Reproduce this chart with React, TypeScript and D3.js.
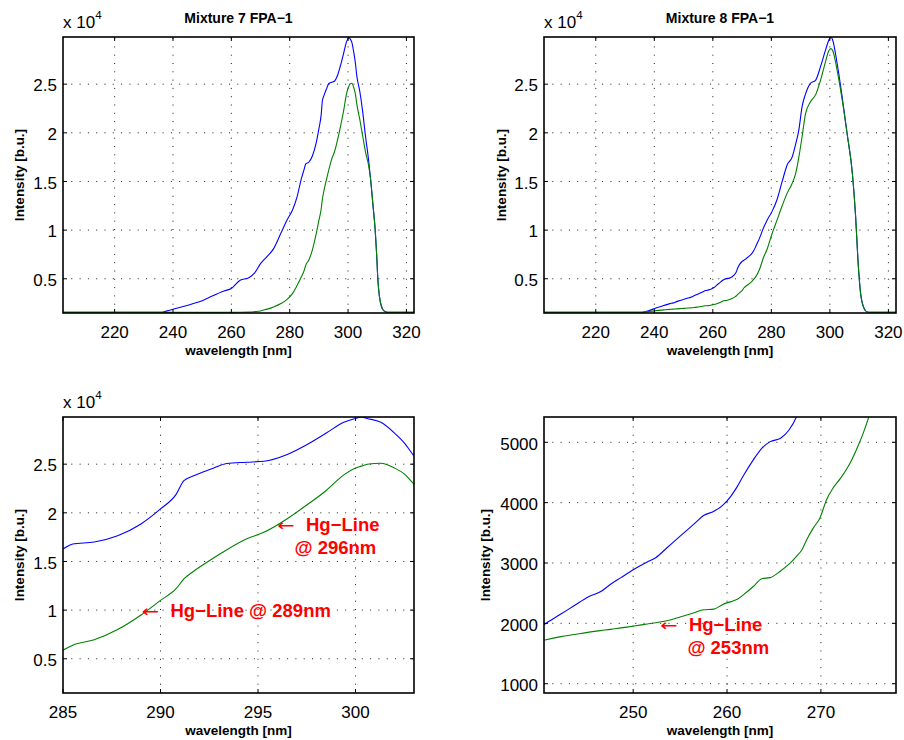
import React from "react";
import * as d3 from "d3";

// ---------- data ----------
// Mixture 7 FPA-1 (wavelength nm, intensity b.u.)
const wl7 = [202.3, 235.5, 238, 240, 243.5, 247, 250, 253, 257.5, 260, 263, 266, 268, 270, 272, 274.5, 277, 279, 281, 282.5, 284, 285, 285.5, 286.6, 287.8, 289, 290, 290.8, 291.2, 291.7, 292.6, 293.4, 294.4, 295.3, 296.5, 297.5, 298.5, 299.4, 300, 300.3, 300.6, 301.3, 302, 302.5, 303, 304, 305, 306, 307, 307.7, 308.5, 309.3, 309.8, 310.2, 310.7, 311.4, 312.3, 313.4, 314.5, 322.6];
const blue7 = [1540, 1540, 1700, 1860, 2150, 2460, 2750, 3170, 3750, 4000, 4850, 5100, 5600, 6550, 7200, 8100, 9700, 11000, 12100, 13400, 15300, 16300, 16800, 17000, 17650, 18860, 20400, 21900, 23300, 23800, 24500, 25070, 25200, 25300, 26000, 27000, 28200, 29300, 29700, 29850, 29700, 29300, 28200, 27200, 25850, 24300, 22200, 19600, 17300, 15300, 12700, 10000, 7500, 5000, 3300, 2200, 1700, 1560, 1540, 1540];
const green7 = [1540, 1540, 1540, 1540, 1540, 1540, 1540, 1540, 1545, 1545, 1550, 1570, 1620, 1690, 1850, 2100, 2450, 2850, 3500, 4300, 5200, 5890, 6400, 6950, 8000, 9500, 11000, 12200, 13200, 14000, 15200, 16200, 17300, 18000, 19400, 20800, 22300, 23900, 24600, 24800, 25000, 25100, 24600, 24000, 22950, 21400, 19700, 18000, 16700, 15300, 12700, 10000, 7500, 5000, 3300, 2200, 1700, 1560, 1540, 1540];

// Mixture 8 FPA-1
const wl8 = [202.3, 235.5, 238, 240.6, 242.3, 243.7, 245.3, 246.5, 247.6, 248.7, 250.1, 251.5, 252.4, 253.6, 255.0, 256.5, 257.5, 258.6, 259.5, 260.4, 261.1, 261.8, 262.8, 263.7, 264.6, 265.7, 266.6, 267.4, 268.0, 268.5, 269.2, 269.9, 270.6, 271.3, 272.1, 273.1, 274.0, 274.5, 275.1, 276.0, 277.4, 278.5, 280.2, 281.9, 283.7, 285.4, 287.1, 288.2, 289.4, 290.5, 291.7, 293.4, 295.1, 296.8, 298.5, 299.6, 300.3, 300.9, 302.5, 304.2, 305.9, 307.7, 308.8, 309.6, 310.5, 311.7, 312.8, 313.9, 322.6];
const blue8 = [1540, 1540, 1720, 1989, 2154, 2291, 2445, 2522, 2648, 2758, 2896, 3016, 3088, 3253, 3445, 3648, 3786, 3857, 3951, 4104, 4269, 4462, 4709, 4901, 5011, 5066, 5203, 5423, 5700, 6100, 6500, 6750, 6900, 7050, 7250, 7500, 7900, 8200, 8600, 9200, 10300, 11000, 11900, 13100, 15000, 16700, 17500, 18700, 20300, 22700, 24000, 25100, 25400, 26800, 28500, 29500, 29850, 29600, 27100, 23700, 19900, 15800, 11400, 6900, 3500, 1950, 1580, 1540, 1540];
const green8 = [1540, 1540, 1620, 1725, 1780, 1815, 1855, 1880, 1900, 1925, 1955, 1989, 2010, 2044, 2105, 2175, 2225, 2236, 2310, 2360, 2400, 2480, 2610, 2740, 2758, 2868, 2980, 3110, 3225, 3390, 3582, 3747, 4049, 4242, 4407, 4654, 4956, 5148, 5423, 6000, 7260, 8000, 9600, 11000, 12500, 13800, 14800, 15700, 17500, 19600, 22000, 23200, 23900, 25400, 27300, 28400, 28660, 28500, 26400, 23400, 19900, 15800, 11400, 6900, 3500, 1950, 1580, 1540, 1540];

const titles = ["Mixture 7 FPA\u22121", "Mixture 8 FPA\u22121"];
const xTicksFull = [220, 240, 260, 280, 300, 320];
const xTicksZoom7 = [285, 290, 295, 300];
const xTicksZoom8 = [250, 260, 270];
const yTicksE4 = [5000, 10000, 15000, 20000, 25000];
const yTicksLow = [1000, 2000, 3000, 4000, 5000];
const xLabel = "wavelength [nm]";
const yLabel = "Intensity [b.u.]";

const annot7 = [
  { x: 289.05, y: 9820, line1: "Hg\u2212Line @ 289nm", line2: "" },
  { x: 296.0, y: 18740, line1: "Hg\u2212Line", line2: "@ 296nm" },
];
const annot8 = [{ x: 252.9, y: 1960, line1: "Hg\u2212Line", line2: "@ 253nm" }];

// ---------- layout ----------
const FONT = "'Liberation Sans', Arial, Helvetica, sans-serif";
const BLUE = "#0000ff";
const GREEN = "#008000";
const RED = "#ff0000";

type PanelCfg = {
  left: number; top: number; width: number; height: number;
  xDomain: [number, number]; yDomain: [number, number];
  xTicks: number[]; yTicks: number[];
  yFmt: (v: number) => string;
  exponent: boolean; title?: string;
  wl: number[]; blue: number[]; green: number[];
  annots: { x: number; y: number; line1: string; line2: string }[];
  yLabelDx: number; line2Dx: number;
  id: string;
};

function Panel({ c }: { c: PanelCfg }) {
  const x = d3.scaleLinear().domain(c.xDomain).range([c.left, c.left + c.width]);
  const y = d3.scaleLinear().domain(c.yDomain).range([c.top + c.height, c.top]);
  const bottom = c.top + c.height;
  const right = c.left + c.width;
  const line = d3
    .line<number>()
    .x((_, i) => x(c.wl[i]))
    .y((d) => y(d))
    .curve(d3.curveMonotoneX);
  const tickLen = 4;
  return (
    <g>
      <defs>
        <clipPath id={c.id}>
          <rect x={c.left} y={c.top} width={c.width} height={c.height} />
        </clipPath>
      </defs>
      <rect x={c.left} y={c.top} width={c.width} height={c.height} fill="#fff" />
      {/* grid */}
      <g stroke="#000" strokeWidth={0.9} strokeDasharray="1 7.3" fill="none">
        {c.xTicks.map((t) =>
          Math.abs(x(t) - c.left) > 1 && Math.abs(x(t) - right) > 1 ? (
            <line key={"gx" + t} x1={x(t)} x2={x(t)} y1={bottom} y2={c.top} />
          ) : null
        )}
        {c.yTicks.map((t) => (
          <line key={"gy" + t} x1={c.left} x2={right} y1={y(t)} y2={y(t)} />
        ))}
      </g>
      {/* data */}
      <g clipPath={`url(#${c.id})`} fill="none" strokeWidth={1.1}>
        <path d={line(c.blue) || ""} stroke={BLUE} />
        <path d={line(c.green) || ""} stroke={GREEN} />
      </g>
      {/* ticks */}
      <g stroke="#000" strokeWidth={1}>
        {c.xTicks.map((t) => (
          <g key={"tx" + t}>
            <line x1={x(t)} x2={x(t)} y1={bottom} y2={bottom - tickLen} />
            <line x1={x(t)} x2={x(t)} y1={c.top} y2={c.top + tickLen} />
          </g>
        ))}
        {c.yTicks.map((t) => (
          <g key={"ty" + t}>
            <line x1={c.left} x2={c.left + tickLen} y1={y(t)} y2={y(t)} />
            <line x1={right} x2={right - tickLen} y1={y(t)} y2={y(t)} />
          </g>
        ))}
      </g>
      <rect x={c.left} y={c.top} width={c.width} height={c.height} fill="none" stroke="#000" strokeWidth={1.6} />
      {/* tick labels */}
      <g fontFamily={FONT} fontSize={17} fill="#000">
        {c.xTicks.map((t) => (
          <text key={"lx" + t} x={x(t)} y={bottom + 24.6} textAnchor="middle">
            {String(t)}
          </text>
        ))}
        {c.yTicks.map((t) => (
          <text key={"ly" + t} x={c.left - 6} y={y(t) + 7.3} textAnchor="end">
            {c.yFmt(t)}
          </text>
        ))}
      </g>
      {c.exponent ? (
        <text x={c.left} y={c.top - 9.3} fontFamily={FONT} fontSize={17} fill="#000">
          x 10
          <tspan fontSize={11.5} dy={-9}>4</tspan>
        </text>
      ) : null}
      {c.title ? (
        <text x={(c.left + right) / 2} y={c.top - 14.3} textAnchor="middle" fontFamily={FONT} fontSize={14} fontWeight="bold">
          {c.title}
        </text>
      ) : null}
      <text x={(c.left + right) / 2} y={bottom + 42} textAnchor="middle" fontFamily={FONT} fontSize={13.5} fontWeight="bold">
        {xLabel}
      </text>
      <text
        transform={`translate(${c.left + c.yLabelDx},${(c.top + bottom) / 2}) rotate(-90)`}
        textAnchor="middle"
        fontFamily={FONT}
        fontSize={13.5}
        fontWeight="bold"
      >
        {yLabel}
      </text>
      {/* annotations */}
      {c.annots.map((a, i) => {
        const ax = x(a.x);
        const ay = y(a.y);
        return (
          <g key={"a" + i} fill={RED}>
            <text
              x={0}
              y={0}
              fontFamily="'DejaVu Sans', sans-serif"
              fontSize={16}
              transform={`translate(${ax - 0.5},${ay + 5.5}) scale(1.3,1)`}
            >
              {"\u2190"}
            </text>
            <text x={ax + 28.5} y={ay + 5.5} fontFamily={FONT} fontSize={18.5} fontWeight="bold">
              {a.line1}
            </text>
            {a.line2 ? (
              <text x={ax + c.line2Dx} y={ay + 28.5} fontFamily={FONT} fontSize={18.5} fontWeight="bold">
                {a.line2}
              </text>
            ) : null}
          </g>
        );
      })}
    </g>
  );
}

const fmtE4 = (v: number) => String(v / 10000);
const fmtPlain = (v: number) => String(v);

export default function App() {
  const panels: PanelCfg[] = [
    {
      id: "clipA", left: 63, top: 37, width: 351, height: 276,
      xDomain: [202.3, 322.6], yDomain: [1480, 29850],
      xTicks: xTicksFull, yTicks: yTicksE4, yFmt: fmtE4, exponent: true, title: titles[0],
      wl: wl7, blue: blue7, green: green7, annots: [], yLabelDx: -39, line2Dx: 17,
    },
    {
      id: "clipB", left: 544, top: 37, width: 352, height: 276,
      xDomain: [202.3, 322.6], yDomain: [1480, 29850],
      xTicks: xTicksFull, yTicks: yTicksE4, yFmt: fmtE4, exponent: true, title: titles[1],
      wl: wl8, blue: blue8, green: green8, annots: [], yLabelDx: -38.5, line2Dx: 17,
    },
    {
      id: "clipC", left: 63, top: 417, width: 351, height: 276,
      xDomain: [285, 303], yDomain: [1480, 29850],
      xTicks: xTicksZoom7, yTicks: yTicksE4, yFmt: fmtE4, exponent: true,
      wl: wl7, blue: blue7, green: green7, annots: annot7, yLabelDx: -39, line2Dx: 17,
    },
    {
      id: "clipD", left: 544, top: 417, width: 352, height: 276,
      xDomain: [240.5, 278], yDomain: [846, 5419],
      xTicks: xTicksZoom8, yTicks: yTicksLow, yFmt: fmtPlain, exponent: false,
      wl: wl8, blue: blue8, green: green8, annots: annot8, yLabelDx: -54, line2Dx: 27,
    },
  ];
  return (
    <svg
      width={904}
      height={740}
      viewBox="0 0 904 740"
      style={{ position: "absolute", left: 0, top: 0, background: "#fff" }}
    >
      <rect x={0} y={0} width={904} height={740} fill="#fff" />
      {panels.map((p) => (
        <Panel key={p.id} c={p} />
      ))}
    </svg>
  );
}
